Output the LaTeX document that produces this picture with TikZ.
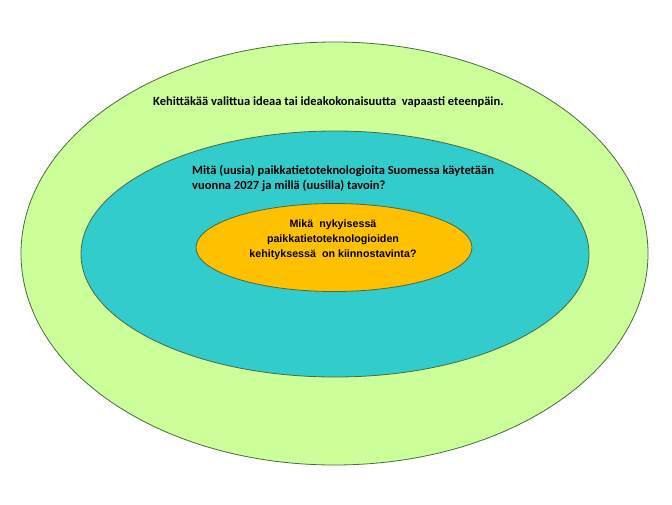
\documentclass[tikz,border=0pt]{standalone}
\usepackage{fontspec}
\setmainfont{Carlito}
\newfontfamily\calibold{Carlito Bold}
\newfontfamily\arialbold{Liberation Sans Bold}
\definecolor{outerfill}{HTML}{CCFF99}
\definecolor{midfill}{HTML}{33CCCC}
\definecolor{innerfill}{HTML}{FFC000}
\definecolor{edge}{HTML}{4A6A40}
\begin{document}
\begin{tikzpicture}[x=1pt,y=-1pt,
  ring/.style={draw=edge,line width=0.8pt},
  calitext/.style={font=\calibold\fontsize{12.5}{15}\selectfont,text=black,inner sep=0pt},
  arialtext/.style={font=\arialbold\fontsize{10.7}{15}\selectfont,text=black,align=center,inner sep=0pt}]
\useasboundingbox (0,0) rectangle (672,504);
\fill[white] (0,0) rectangle (672,504);
\path[ring,fill=outerfill] (334.5,253.5) ellipse [x radius=313.5, y radius=211.5];
\path[ring,fill=midfill] (335,254) ellipse [x radius=254, y radius=123];
\path[ring,fill=innerfill] (334,247.5) ellipse [x radius=138, y radius=44];
\node[calitext,anchor=west] (outertext) at (153,102) {Kehittäkää valittua ideaa tai ideakokonaisuutta\ \ vapaasti eteenpäin.};
\node[calitext,anchor=north west,align=left] (midtext) at (192,165) {Mitä (uusia) paikkatietoteknologioita Suomessa käytetään\\vuonna 2027 ja millä (uusilla) tavoin?};
\node[arialtext] (innertext) at (333,240) {Mikä\ \ nykyisessä\\paikkatietoteknologioiden\\kehityksessä\ \ on kiinnostavinta?};
\end{tikzpicture}
\end{document}
